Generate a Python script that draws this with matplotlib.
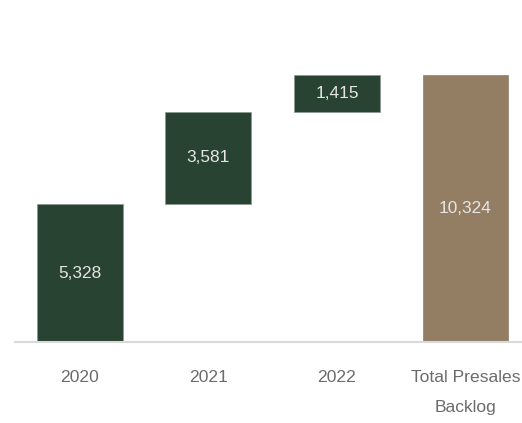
import numpy as np
import matplotlib
matplotlib.use("Agg")
import matplotlib.pyplot as plt

# Data
categories = ["2020", "2021", "2022", "Total Presales\nBacklog"]
increments = [5328, 3581, 1415]
total = 10324

green = "#294332"
tan = "#937e64"

plt.rcParams["font.family"] = ["Liberation Sans", "DejaVu Sans"]

fig = plt.figure(figsize=(5.22, 4.23), dpi=100)
ax = fig.add_axes([15 / 522, 1 - 342 / 423, 1 - 15 / 522, (342 - 20) / 423])

values = increments + [total]
bottoms = list(np.concatenate([[0], np.cumsum(increments)[:-1]])) + [0]
colors = [green] * len(increments) + [tan]
x = np.arange(len(categories))

bars = ax.bar(x, values, bottom=bottoms, width=0.668, color=colors,
              edgecolor="#8a9a90", linewidth=0.5)
bars[-1].set_edgecolor(tan)

for xi, v, b in zip(x, values, bottoms):
    ax.text(xi, b + v / 2, f"{v:,}", ha="center", va="center",
            fontsize=12.4, color="#e6e6e6")

ax.set_xlim(-0.505, 3.44)
ax.set_ylim(0, 12450)
ax.set_xticks(x)
ax.set_xticklabels(categories, fontsize=12.6, color="#6b6b6b", linespacing=2.25)
ax.tick_params(axis="x", length=0, pad=20)
ax.set_yticks([])

for s in ["top", "right", "left"]:
    ax.spines[s].set_visible(False)
ax.spines["bottom"].set_color("#d9d9d9")
ax.spines["bottom"].set_linewidth(1.5)

fig.savefig("out.png", dpi=100)
